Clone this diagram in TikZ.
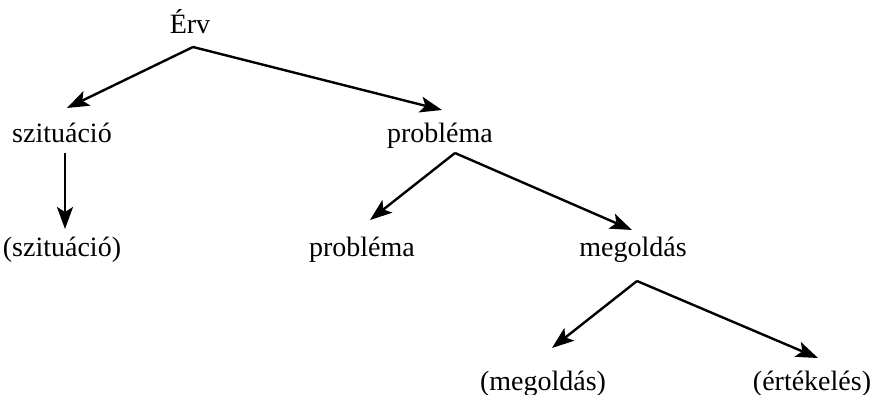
\documentclass[tikz,border=0pt]{standalone}
\usepackage{fontspec}
\setmainfont{Liberation Serif}
\usetikzlibrary{arrows.meta,calc}
\begin{document}
\begin{tikzpicture}[x=1pt,y=-1pt,
  label/.style={anchor=base,inner sep=0pt,font=\fontsize{28}{34}\selectfont},
  arr/.style={line width=2.4pt,-{Stealth[length=22pt,width=16pt,inset=5pt]}}]
\useasboundingbox (0,0) rectangle (873,395);
% terms of the argument tree
\node[label] (erv)    at (190,34)  {Érv};
\node[label] (szit)   at (62,143)  {szituáció};
\node[label] (prob)   at (440,143) {probléma};
\node[label] (szit2)  at (62,257)  {(szituáció)};
\node[label] (prob2)  at (362,257) {probléma};
\node[label] (meg)    at (633,257) {megoldás};
\node[label] (meg2)   at (543,390) {(megoldás)};
\node[label] (ert)    at (812,390) {(értékelés)};
% fork points below the parent terms
\coordinate (ervF)  at ($(erv.base)+(3,13)$);
\coordinate (probF) at ($(prob.base)+(15,10)$);
\coordinate (megF)  at ($(meg.base)+(4,24)$);
\coordinate (szitF) at ($(szit.base)+(3,10)$);
% arrow targets above the child terms
\coordinate (szitT)  at ($(szit.base)+(5,-35)$);
\coordinate (probT)  at ($(prob.base)+(2,-33)$);
\coordinate (szit2T) at ($(szit2.base)+(3,-28)$);
\coordinate (prob2T) at ($(prob2.base)+(8,-37)$);
\coordinate (megT)   at ($(meg.base)+(-1,-27)$);
\coordinate (meg2T)  at ($(meg2.base)+(9,-42)$);
\coordinate (ertT)   at ($(ert.base)+(6,-32)$);
% connectors
\draw[arr] (ervF) -- (szitT);
\draw[arr] (ervF) -- (probT);
\draw[arr] (szitF) -- (szit2T);
\draw[arr] (probF) -- (prob2T);
\draw[arr] (probF) -- (megT);
\draw[arr] (megF) -- (meg2T);
\draw[arr] (megF) -- (ertT);
\end{tikzpicture}
\end{document}
